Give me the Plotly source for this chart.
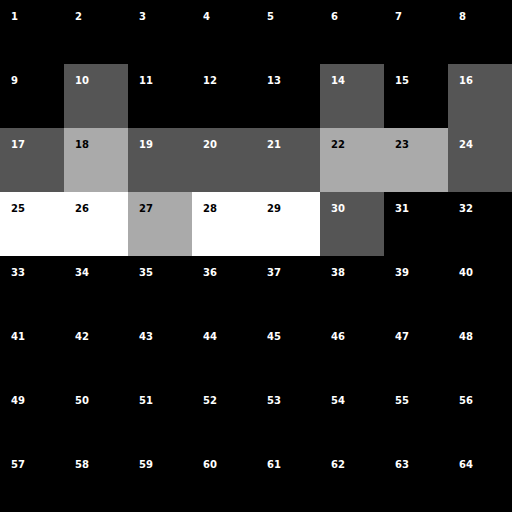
import plotly.graph_objects as go

levels = [
    [0, 0, 0, 0, 0, 0, 0, 0],
    [0, 1, 0, 0, 0, 1, 0, 1],
    [1, 2, 1, 1, 1, 2, 2, 1],
    [3, 3, 2, 3, 3, 1, 0, 0],
    [0, 0, 0, 0, 0, 0, 0, 0],
    [0, 0, 0, 0, 0, 0, 0, 0],
    [0, 0, 0, 0, 0, 0, 0, 0],
    [0, 0, 0, 0, 0, 0, 0, 0],
]
cols = list(range(8))
rows = list(range(8))
labels = [[str(r * 8 + c + 1) for c in cols] for r in rows]

fig = go.Figure(go.Heatmap(
    z=levels, x=cols, y=rows, zmin=0, zmax=3,
    colorscale=[[0, "#000000"], [1/3, "#555555"], [2/3, "#aaaaaa"], [1, "#ffffff"]],
    showscale=False, hoverinfo="skip",
))

annotations = []
for r in rows:
    for c in cols:
        v = levels[r][c]
        annotations.append(dict(
            x=c - 0.5 + 9 / 64, y=r - 0.5 + 16 / 64, xref="x", yref="y",
            text="<b>" + labels[r][c] + "</b>", showarrow=False,
            xanchor="left", yanchor="middle",
            font=dict(family="DejaVu Sans", size=10,
                      color="#000000" if v >= 2 else "#ffffff"),
        ))

fig.update_layout(
    width=512, height=512, margin=dict(l=0, r=0, t=0, b=0),
    paper_bgcolor="#000000", plot_bgcolor="#000000",
    xaxis=dict(range=[-0.5, 7.5], visible=False, fixedrange=True),
    yaxis=dict(range=[7.5, -0.5], visible=False, fixedrange=True),
    annotations=annotations,
)
fig.write_html(
    "out.html",
    config={"displayModeBar": False},
    post_script="document.body.style.margin='0';document.body.style.background='#000';",
)
